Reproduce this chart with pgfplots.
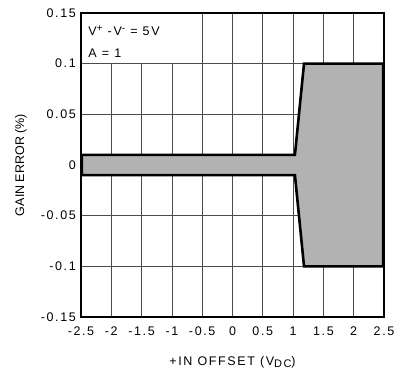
\documentclass[border=0pt,12pt]{standalone}
\usepackage{fontspec}
\setmainfont{Liberation Sans}
\newfontfamily\tickfont[LetterSpace=13]{Liberation Sans}
\usepackage{pgfplots}
\pgfplotsset{compat=1.18}
\definecolor{bandgray}{gray}{0.70}
\begin{document}
\begin{tikzpicture}[font=\fontsize{12.5}{15}\selectfont]
\begin{axis}[
  name=ax,
  scale only axis,
  width=303pt, height=304pt,
  xmin=-2.5, xmax=2.5, ymin=-0.15, ymax=0.15,
  xtick={-2.5,-2,-1.5,-1,-0.5,0,0.5,1,1.5,2,2.5},
  xticklabels={-2.5,-2,-1.5,-1,-0.5,0,0.5,1,1.5,2,2.5},
  ytick={-0.15,-0.1,-0.05,0,0.05,0.1,0.15},
  yticklabels={-0.15,-0.1,-0.05,0,0.05,0.1,0.15},
  major tick length=0pt,
  grid=major,
  major grid style={black!70, line width=0.8pt},
  axis line style={black, line width=1.2pt},
  ticklabel style={font=\tickfont\fontsize{12.5}{14}\selectfont},
  xticklabel style={yshift=-6pt},
  yticklabel style={xshift=-1pt},
  xlabel={\tickfont +IN OFFSET (V\raisebox{-2.5pt}{\fontsize{11}{12}\selectfont DC})},
  ylabel={GAIN ERROR (\%)},
  xlabel style={yshift=-12pt},
  ylabel style={yshift=6pt},
]
\addplot[draw=black, line width=2.6pt, fill=bandgray, line join=miter] coordinates {
  (-2.485,0.010) (1.03,0.010) (1.18,0.100) (2.485,0.100)
  (2.485,-0.100) (1.18,-0.100) (1.03,-0.010) (-2.485,-0.010)
} -- cycle;
\fill[white] (axis cs:-2.37,0.1495) rectangle (axis cs:-0.975,0.1005);
\node[anchor=base west, inner sep=0pt] at (axis cs:-2.38,0.1275)
  {\tickfont\fontsize{12.5}{14}\selectfont V\raisebox{4.5pt}{\fontsize{10}{10}\selectfont +} -V\raisebox{4.5pt}{\fontsize{10}{10}\selectfont -} = 5V};
\node[anchor=base west, inner sep=0pt] at (axis cs:-2.38,0.106)
  {\tickfont\fontsize{12.5}{14}\selectfont A = 1};
\draw[black, line width=1.2pt] (rel axis cs:0,0) rectangle (rel axis cs:1,1);
\end{axis}
\pgfresetboundingbox
\useasboundingbox ([shift={(-81pt,-56pt)}]ax.south west) rectangle ([shift={(12pt,13pt)}]ax.north east);
\end{tikzpicture}
\end{document}
